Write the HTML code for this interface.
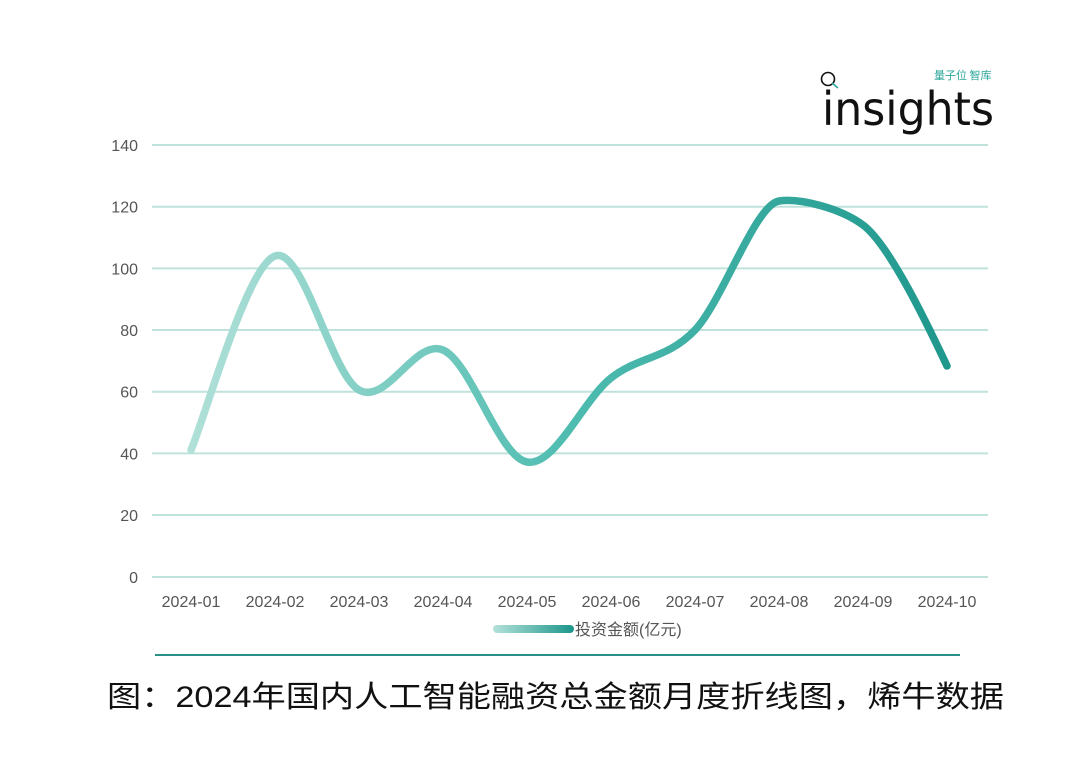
<!DOCTYPE html>
<html><head><meta charset="utf-8"><style>
html,body{margin:0;padding:0;background:#fff;}
body{width:1080px;height:778px;overflow:hidden;}
</style></head><body>
<svg width="1080" height="778" viewBox="0 0 1080 778" xmlns="http://www.w3.org/2000/svg">
<defs>
<linearGradient id="g" x1="191" y1="0" x2="947" y2="0" gradientUnits="userSpaceOnUse">
<stop offset="0" stop-color="#b0e0d8"/><stop offset="0.5" stop-color="#4fbcb0"/><stop offset="1" stop-color="#1f978d"/>
</linearGradient>
<linearGradient id="lg" x1="495" y1="0" x2="572" y2="0" gradientUnits="userSpaceOnUse">
<stop offset="0" stop-color="#b0e0d8"/><stop offset="1" stop-color="#1f978d"/>
</linearGradient>
</defs>
<g stroke="#bfe3dc" stroke-width="2">
<line x1="152" y1="145" x2="988" y2="145"/>
<line x1="152" y1="206.7" x2="988" y2="206.7"/>
<line x1="152" y1="268.4" x2="988" y2="268.4"/>
<line x1="152" y1="330" x2="988" y2="330"/>
<line x1="152" y1="391.7" x2="988" y2="391.7"/>
<line x1="152" y1="453.4" x2="988" y2="453.4"/>
<line x1="152" y1="515" x2="988" y2="515"/>
<line x1="152" y1="577" x2="988" y2="577"/>
</g>
<g font-family="Liberation Sans, sans-serif" font-size="16" fill="#555" text-anchor="end">
<text x="138" y="151">140</text><text x="138" y="212.7">120</text><text x="138" y="274.4">100</text>
<text x="138" y="336">80</text><text x="138" y="397.7">60</text><text x="138" y="459.4">40</text>
<text x="138" y="521">20</text><text x="138" y="583">0</text>
</g>
<g font-family="Liberation Sans, sans-serif" font-size="16" fill="#555" text-anchor="middle">
<text x="191" y="607">2024-01</text><text x="275" y="607">2024-02</text><text x="359" y="607">2024-03</text>
<text x="443" y="607">2024-04</text><text x="527" y="607">2024-05</text><text x="611" y="607">2024-06</text>
<text x="695" y="607">2024-07</text><text x="779" y="607">2024-08</text><text x="863" y="607">2024-09</text>
<text x="947" y="607">2024-10</text>
</g>
<path fill="none" stroke="url(#g)" stroke-width="7.5" stroke-linecap="round"
d="M191,450 C205,417.7 247,266 275,256 C303,246 331,374.3 359,390 C387,405.7 415,338 443,350 C471,362 499,457.3 527,462 C555,466.7 583,400 611,378 C639,356 667,359.5 695,330 C723,300 755,205 779,201 C800,198 840,208 863,225 C890,245 930,330 947,366"/>
<line x1="497" y1="629" x2="570" y2="629" stroke="url(#lg)" stroke-width="8" stroke-linecap="round"/>
<text x="575" y="635" font-family="Liberation Sans, Noto Sans CJK SC, sans-serif" font-size="16" fill="#555">投资金额(亿元)</text>
<line x1="155" y1="655" x2="960" y2="655" stroke="#2a8f86" stroke-width="2"/>
<text x="107" y="707" font-family="Liberation Sans, Noto Sans CJK SC, sans-serif" font-size="30" fill="#111" textLength="897" lengthAdjust="spacingAndGlyphs">图：2024年国内人工智能融资总金额月度折线图，烯牛数据</text>
<circle cx="828" cy="79" r="6.5" fill="none" stroke="#111" stroke-width="1.6"/>
<line x1="832" y1="83" x2="838" y2="88" stroke="#2aa79b" stroke-width="1.5"/>
<text x="822" y="125" font-family="DejaVu Sans, sans-serif" font-size="46" fill="#111" textLength="172" lengthAdjust="spacingAndGlyphs">insights</text>
<text x="934" y="79" font-family="Noto Sans CJK SC, sans-serif" font-size="11" fill="#2aa79b">量子位 智库</text>
</svg>
</body></html>
